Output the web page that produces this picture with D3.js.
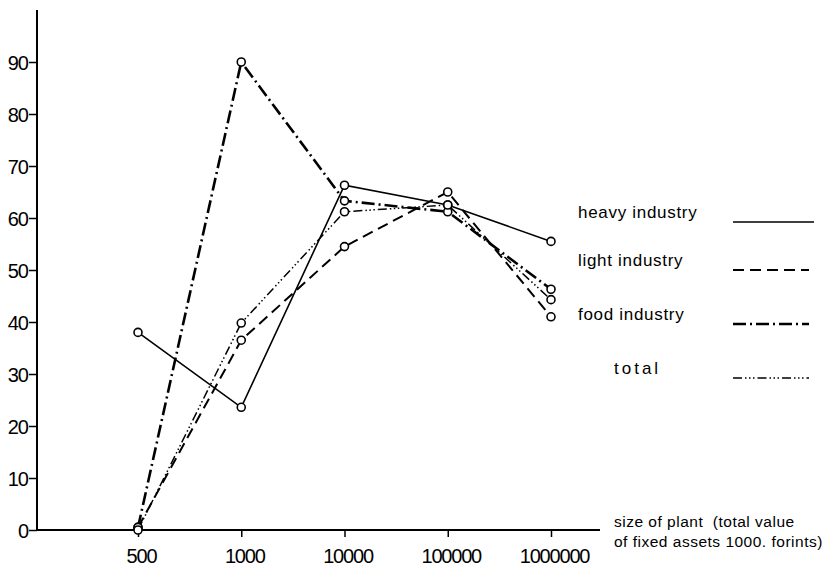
<!DOCTYPE html>
<html>
<head>
<meta charset="utf-8">
<script src="https://cdn.jsdelivr.net/npm/d3@7"></script>
<style>
  body { margin: 0; background: #fff; }
  svg { display: block; }
  text { font-family: 'Liberation Sans', Arial, sans-serif; fill: #000; }
</style>
</head>
<body>
<div id="chart"></div>
<script>
// data
const categories = ['500', '1000', '10000', '100000', '1000000']
const heavy = [38, 23.6, 66.3, 62.5, 55.5]
const light = [0.5, 36.5, 54.5, 65, 41]
const food = [0.5, 90, 63.3, 61.2, 46.3]
const total = [0, 39.8, 61.2, 62.5, 44.3]
const yTicks = [0, 10, 20, 30, 40, 50, 60, 70, 80, 90]

const series = [
  { name: 'heavy industry', values: heavy, width: 1.6, dash: null },
  { name: 'light industry', values: light, width: 2, dash: '11,6' },
  { name: 'food industry', values: food, width: 2.6, dash: '13,4,2,4' },
  { name: 'total', values: total, width: 1.5, dash: '9,3,1.5,2.5,1.5,2.5,1.5,3' }
]

const width = 835
const height = 568
const axisX = 37
const axisEnd = 600

const svg = d3
  .select('#chart')
  .append('svg')
  .attr('width', width)
  .attr('height', height)

const x = d3
  .scalePoint()
  .domain(categories)
  .range([138, 551])

const y = d3
  .scaleLinear()
  .domain([0, 100])
  .range([530, 10])

// axes
svg
  .append('g')
  .attr('transform', `translate(${axisX},0)`)
  .call(d3.axisLeft(y).tickValues(yTicks).tickSize(8).tickPadding(1))
  .call(g => g.select('.domain').remove())
  .call(g => g.selectAll('.tick line').attr('stroke', '#000').attr('stroke-width', 1.5))
  .call(g => g.selectAll('.tick text').attr('font-size', 20).attr('letter-spacing', -1).attr('dy', '0.36em'))

svg
  .append('g')
  .attr('transform', `translate(0,${y(0)})`)
  .call(d3.axisBottom(x).tickSize(7).tickPadding(12))
  .call(g => g.select('.domain').remove())
  .call(g => g.selectAll('.tick line').attr('stroke', '#000').attr('stroke-width', 1.5))
  .call(g => g.selectAll('.tick text').attr('font-size', 20).attr('letter-spacing', -1.2).attr('dx', 3))

svg
  .append('line')
  .attr('x1', axisX).attr('x2', axisX)
  .attr('y1', y(0)).attr('y2', y(100))
  .attr('stroke', '#000').attr('stroke-width', 2)

svg
  .append('line')
  .attr('x1', axisX).attr('x2', axisEnd)
  .attr('y1', y(0)).attr('y2', y(0))
  .attr('stroke', '#000').attr('stroke-width', 2)

const xTitle = svg
  .append('text')
  .attr('x', 614)
  .attr('y', 527)
  .attr('font-size', 15.5)
  .attr('letter-spacing', 0.5)
xTitle.append('tspan').text('size of plant  (total value').attr('xml:space', 'preserve')
xTitle.append('tspan').attr('x', 614).attr('dy', 20).text('of fixed assets 1000. forints)')

// lines
const line = d3
  .line()
  .x((d, i) => x(categories[i]))
  .y(d => y(d))

svg
  .append('g')
  .selectAll('path')
  .data(series)
  .join('path')
  .attr('fill', 'none')
  .attr('stroke', '#000')
  .attr('stroke-width', d => d.width)
  .attr('stroke-dasharray', d => d.dash)
  .attr('d', d => line(d.values))

svg
  .append('g')
  .selectAll('g')
  .data(series)
  .join('g')
  .selectAll('circle')
  .data(d => d.values)
  .join('circle')
  .attr('cx', (d, i) => x(categories[i]))
  .attr('cy', d => y(d))
  .attr('r', 4)
  .attr('fill', '#fff')
  .attr('stroke', '#000')
  .attr('stroke-width', 1.6)

// legend
const legendY = [220, 268, 322, 376]
const legendTextX = [578, 578, 578, 614]

const legend = svg
  .append('g')
  .selectAll('g')
  .data(series)
  .join('g')

legend
  .append('text')
  .attr('x', (d, i) => legendTextX[i])
  .attr('y', (d, i) => legendY[i] - 2)
  .attr('font-size', 17)
  .attr('letter-spacing', (d, i) => (i === 3 ? 3 : 0.7))
  .text(d => d.name)

legend
  .append('line')
  .attr('x1', 733)
  .attr('x2', (d, i) => (i === 0 ? 814 : 809))
  .attr('y1', (d, i) => legendY[i] + 2)
  .attr('y2', (d, i) => legendY[i] + 2)
  .attr('stroke', '#000')
  .attr('stroke-width', d => d.width)
  .attr('stroke-dasharray', d => d.dash)
</script>
</body>
</html>
